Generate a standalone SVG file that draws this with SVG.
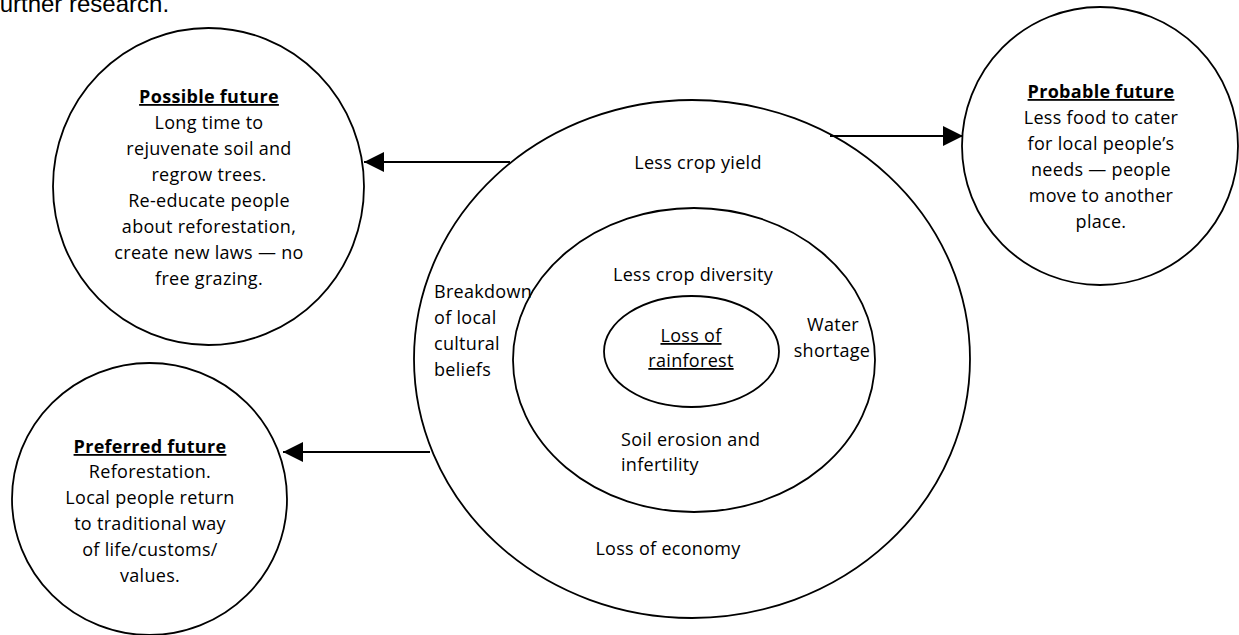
<svg xmlns="http://www.w3.org/2000/svg" width="1239" height="635" viewBox="0 0 1239 635">
<style>
.shape{fill:#fff;stroke:#000;stroke-width:1.8}
.t{font-family:"Open Sans","Noto Sans",sans-serif;font-size:18px;letter-spacing:0.3px;fill:#000}
.c{text-anchor:middle}
.h{font-weight:bold;text-decoration:underline}
.u{text-decoration:underline}
.conn{stroke:#000;stroke-width:2;fill:none}
</style>
<defs>
<marker id="arr" markerWidth="20" markerHeight="20" refX="20" refY="10" orient="auto" markerUnits="userSpaceOnUse">
<path d="M0,0 L20,10 L0,20 Z" fill="#000"/>
</marker>
</defs>
<rect width="1239" height="635" fill="#fff"/>
<text x="-7" y="12" font-family="Liberation Sans, Arial, sans-serif" font-size="24" fill="#000">further research.</text>

<g id="outer">
<ellipse class="shape" cx="692" cy="359" rx="278" ry="259"/>
<text class="t c" x="698" y="169">Less crop yield</text>
<text class="t" x="434" y="298">Breakdown</text>
<text class="t" x="434" y="324">of local</text>
<text class="t" x="434" y="350">cultural</text>
<text class="t" x="434" y="376">beliefs</text>
<text class="t c" x="668" y="555">Loss of economy</text>
</g>
<g id="middle">
<ellipse class="shape" cx="694" cy="360" rx="181" ry="152" style="fill:none"/>
<text class="t c" x="693" y="281">Less crop diversity</text>
<text class="t c" x="833" y="331">Water</text>
<text class="t c" x="832" y="357">shortage</text>
<text class="t" x="621" y="446">Soil erosion and</text>
<text class="t" x="621" y="471">infertility</text>
</g>
<g id="core">
<ellipse class="shape" cx="691.5" cy="351.5" rx="87.5" ry="55.5"/>
<text class="t c u" x="691" y="342">Loss of</text>
<text class="t c u" x="691" y="367">rainforest</text>
</g>

<g id="possible">
<ellipse class="shape" cx="208.5" cy="186.5" rx="155.5" ry="158.5"/>
<text class="t c h" x="209" y="103">Possible future</text>
<text class="t c" x="209" y="129">Long time to</text>
<text class="t c" x="209" y="155">rejuvenate soil and</text>
<text class="t c" x="209" y="181">regrow trees.</text>
<text class="t c" x="209" y="207">Re-educate people</text>
<text class="t c" x="209" y="233">about reforestation,</text>
<text class="t c" x="209" y="259">create new laws — no</text>
<text class="t c" x="209" y="285">free grazing.</text>
</g>

<g id="probable">
<ellipse class="shape" cx="1100" cy="146" rx="138" ry="139"/>
<text class="t c h" x="1101" y="98">Probable future</text>
<text class="t c" x="1101" y="124">Less food to cater</text>
<text class="t c" x="1101" y="150">for local people’s</text>
<text class="t c" x="1101" y="176">needs — people</text>
<text class="t c" x="1101" y="202">move to another</text>
<text class="t c" x="1101" y="228">place.</text>
</g>

<g id="preferred">
<ellipse class="shape" cx="149.5" cy="499" rx="137.5" ry="136"/>
<text class="t c h" x="150" y="453">Preferred future</text>
<text class="t c" x="150" y="478">Reforestation.</text>
<text class="t c" x="150" y="504">Local people return</text>
<text class="t c" x="150" y="530">to traditional way</text>
<text class="t c" x="150" y="556">of life/customs/</text>
<text class="t c" x="150" y="582">values.</text>
</g>

<g id="connectors">
<line class="conn" x1="510" y1="162" x2="364" y2="162" marker-end="url(#arr)"/>
<line class="conn" x1="830" y1="136" x2="963" y2="136" marker-end="url(#arr)"/>
<line class="conn" x1="430" y1="452" x2="283" y2="452" marker-end="url(#arr)"/>
</g>
</svg>
